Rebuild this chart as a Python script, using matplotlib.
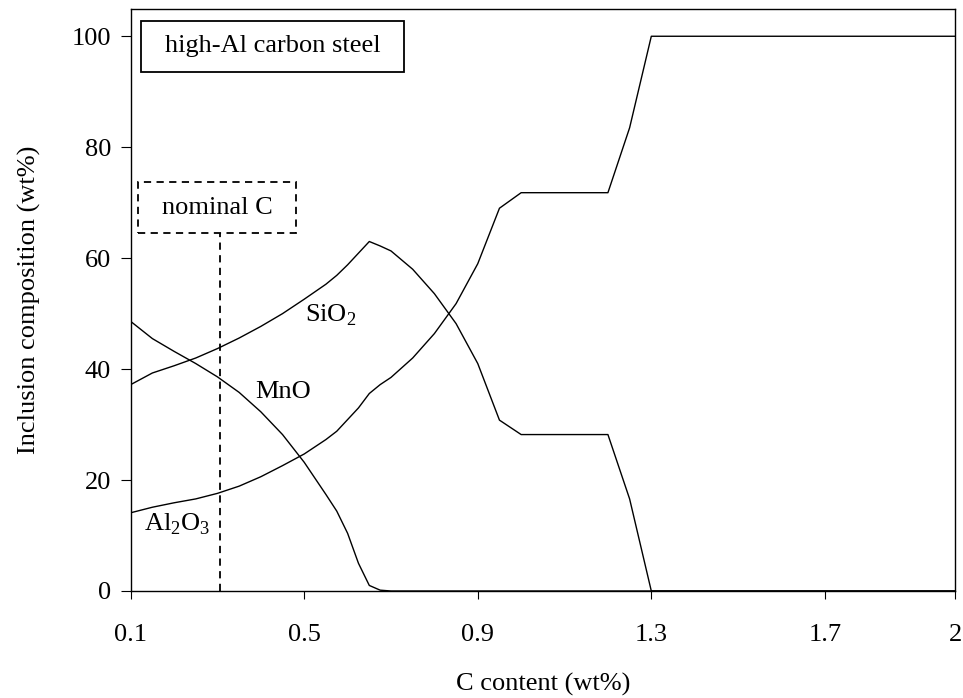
import numpy as np
import matplotlib
matplotlib.use('Agg')
import matplotlib.pyplot as plt
from matplotlib.patches import Rectangle

plt.rcParams['font.family'] = ['Liberation Serif', 'DejaVu Serif']
plt.rcParams['mathtext.fontset'] = 'custom'
plt.rcParams['mathtext.rm'] = 'Liberation Serif'

# C content (wt%) and inclusion composition (wt%)
c_content = [0.1, 0.15, 0.2, 0.25, 0.3, 0.35, 0.4, 0.45, 0.5, 0.55, 0.575, 0.6, 0.625,
             0.65, 0.675, 0.7, 0.75, 0.8, 0.85, 0.9, 0.95, 1.0, 1.05, 1.1, 1.15,
             1.2, 1.25, 1.3, 1.4, 1.5, 1.6, 1.7, 1.8, 1.9, 2.0]
sio2 = [37.2, 39.3, 40.6, 42.0, 43.7, 45.6, 47.7, 50.0, 52.6, 55.3, 56.9, 58.8, 60.9,
        63.0, 62.2, 61.3, 58.0, 53.6, 48.2, 41.0, 30.8, 28.2, 28.2, 28.2, 28.2,
        28.2, 16.6, 0, 0, 0, 0, 0, 0, 0, 0]
mno = [48.6, 45.5, 43.2, 41.0, 38.6, 35.8, 32.3, 28.2, 23.2, 17.4, 14.4, 10.4, 5.0,
       1.0, 0.15, 0, 0, 0, 0, 0, 0, 0, 0, 0, 0,
       0, 0, 0, 0, 0, 0, 0, 0, 0, 0]
al2o3 = [14.1, 15.1, 15.9, 16.6, 17.6, 18.9, 20.6, 22.6, 24.7, 27.3, 28.8, 30.9, 33.0,
         35.6, 37.2, 38.5, 42.0, 46.4, 51.8, 59.0, 69.0, 71.8, 71.8, 71.8, 71.8,
         71.8, 83.5, 100, 100, 100, 100, 100, 100, 100, 100]

nominal_c = 0.305
xticks = [0.1, 0.5, 0.9, 1.3, 1.7, 2.0]
xtick_labels = ['0.1', '0.5', '0.9', '1.3', '1.7', '2']
yticks = [0, 20, 40, 60, 80, 100]

fig = plt.figure(figsize=(9.63, 6.98), dpi=100)
ax = fig.add_axes([0.1357, 0.1533, 0.9917 - 0.1357, 0.987 - 0.1533])

for series in [sio2, mno, al2o3]:
    ax.plot(c_content, series, color='black', lw=1.0)

ax.set_xlim(0.1, 2.0)
ax.set_ylim(0, 104.9)
ax.set_xticks(xticks)
ax.set_xticklabels(xtick_labels)
ax.set_yticks(yticks)
ax.tick_params(axis='x', direction='out', length=6, width=0.8, pad=18, labelsize=19)
ax.tick_params(axis='y', direction='out', length=7, width=0.8, pad=7, labelsize=19)
for sp in ax.spines.values():
    sp.set_linewidth(1.0)

ax.set_xlabel('C content (wt%)', fontsize=19, labelpad=19)
ax.set_ylabel('Inclusion composition (wt%)', fontsize=19, labelpad=22)

# nominal C marker
ax.plot([nominal_c, nominal_c], [0, 64.5], color='black', lw=1.3, ls=(0, (4, 3)))
ax.add_patch(Rectangle((0.117, 64.5), 0.365, 9.2, fill=False, ec='black',
                       lw=1.3, ls=(0, (4, 3))))
ax.text(0.30, 69.0, 'nominal C', fontsize=19, ha='center', va='center')

# title box
ax.add_patch(Rectangle((0.123, 93.6), 0.607, 9.2, fill=False, ec='black', lw=1.3))
ax.text(0.4265, 98.2, 'high-Al carbon steel', fontsize=19, ha='center', va='center')

# curve labels
ax.text(0.56, 49.7, r'SiO$_2$', fontsize=19, ha='center', va='center')
ax.text(0.451, 35.9, 'MnO', fontsize=19, ha='center', va='center')
ax.text(0.207, 12.1, r'Al$_2$O$_3$', fontsize=19, ha='center', va='center')

fig.savefig('out.png', dpi=100)
